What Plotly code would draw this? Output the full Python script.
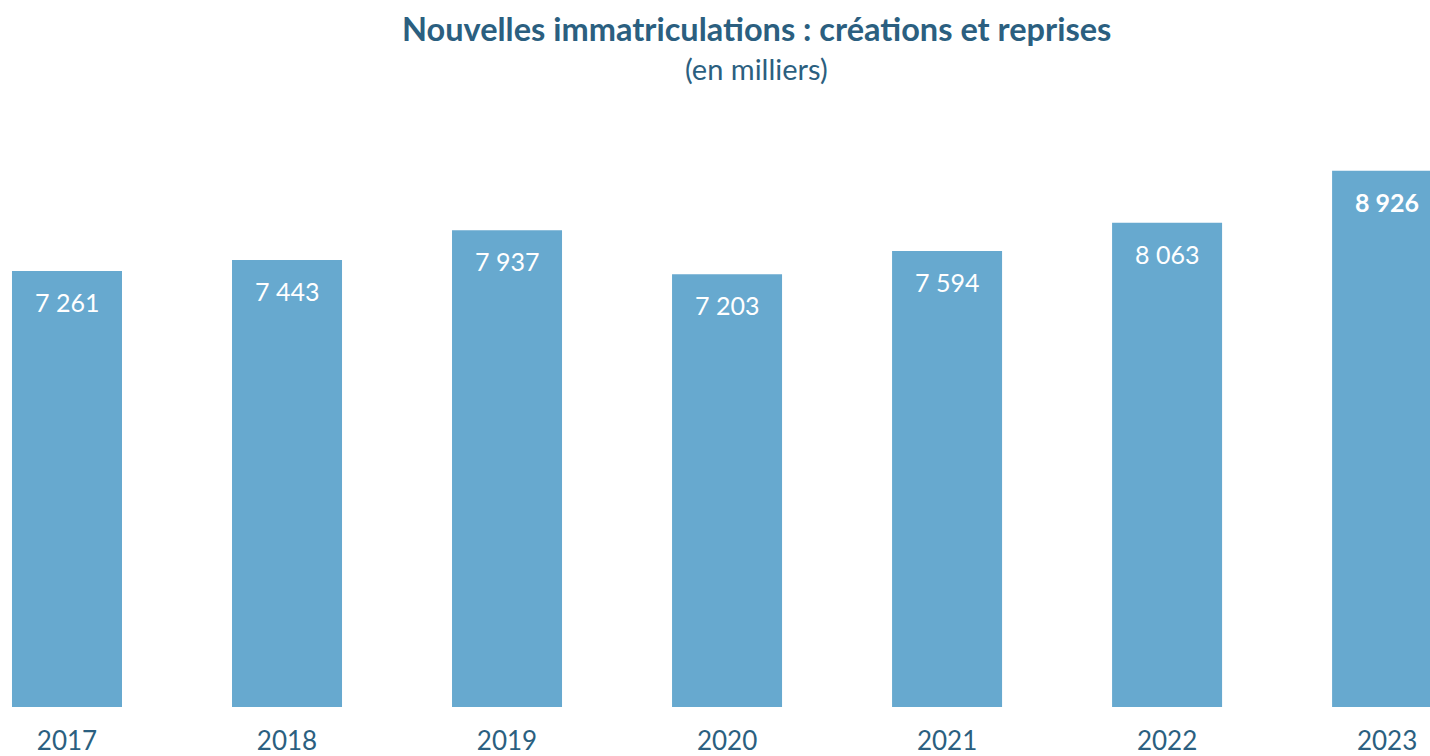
import plotly.graph_objects as go

years = ["2017", "2018", "2019", "2020", "2021", "2022", "2023"]
values = [7261, 7443, 7937, 7203, 7594, 8063, 8926]
labels = ["7 261", "7 443", "7 937", "7 203", "7 594", "8 063", "<b>8 926</b>"]

BAR = "#67A9CF"
DARK = "#2B5F80"
FONT = "Lato"

fig = go.Figure()
fig.add_trace(go.Bar(
    x=list(range(len(years))), y=values, width=0.5,
    marker=dict(color=BAR, line=dict(width=0)),
    hoverinfo="skip",
))

for i, (v, t) in enumerate(zip(values, labels)):
    fig.add_annotation(x=i, y=v, text=t, showarrow=False, yanchor="middle",
                       yshift=-31, font=dict(family=FONT, size=25, color="white"))

fig.add_annotation(xref="paper", yref="paper", x=0.529, y=1, yanchor="middle",
                   yshift=72, text="<b>Nouvelles immatriculations : créations et reprises</b>",
                   showarrow=False, font=dict(family=FONT, size=32.5, color=DARK))
fig.add_annotation(xref="paper", yref="paper", x=0.529, y=1, yanchor="middle",
                   yshift=32, text="(en milliers)",
                   showarrow=False, font=dict(family=FONT, size=29, color=DARK))

fig.update_layout(
    width=1430, height=756,
    margin=dict(l=0, r=0, t=100, b=49),
    paper_bgcolor="white", plot_bgcolor="white",
    showlegend=False,
    xaxis=dict(range=[-0.3045, 6.195], tickmode="array",
               tickvals=list(range(len(years))), ticktext=years,
               showgrid=False, zeroline=False, showline=False, automargin=False,
               ticks="", ticklabelstandoff=16,
               tickfont=dict(family=FONT, size=26, color=DARK)),
    yaxis=dict(range=[0, 10106], visible=False, showgrid=False, zeroline=False,
               automargin=False),
)

fig.write_html("out.html", config={"displayModeBar": False},
               post_script="document.body.style.margin='0';document.body.style.overflow='hidden';")
